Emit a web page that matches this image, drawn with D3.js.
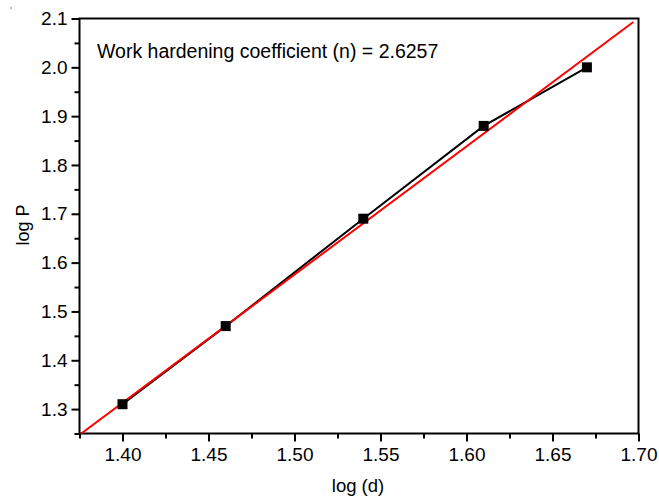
<!DOCTYPE html>
<html>
<head>
<meta charset="utf-8">
<script src="https://cdn.jsdelivr.net/npm/d3@7"></script>
<style>
  html, body { margin: 0; padding: 0; background: #fff; }
  svg { display: block; }
  text { font-family: "Liberation Sans", Arial, Helvetica, sans-serif; fill: #000; }
</style>
</head>
<body>
<svg id="chart" width="659" height="498"></svg>
<script>
// Measured log(d) vs log(P)
const logD = [1.40, 1.46, 1.54, 1.61, 1.67];
const logP = [1.31, 1.47, 1.69, 1.88, 2.00];

// Power-law fit slope (work hardening coefficient)
const nCoef = 2.6257;
const fitRange = [1.375, 1.697];

const xTicks = [1.40, 1.45, 1.50, 1.55, 1.60, 1.65, 1.70];
const xMinor = [1.375, 1.425, 1.475, 1.525, 1.575, 1.625, 1.675];
const yTicks = [1.3, 1.4, 1.5, 1.6, 1.7, 1.8, 1.9, 2.0, 2.1];
const yMinor = [1.25, 1.35, 1.45, 1.55, 1.65, 1.75, 1.85, 1.95, 2.05];

const svg = d3.select("#chart");
const plotL = 79.5, plotR = 638.5, plotT = 18.5, plotB = 433.5;
const tickFont = 19;

const x = d3.scaleLinear().domain([1.375, 1.70]).range([plotL, plotR]);
const y = d3.scaleLinear().domain([1.25, 2.1]).range([plotB, plotT]);

svg.append("defs").append("clipPath").attr("id", "plotClip")
  .append("rect").attr("x", plotL).attr("y", plotT)
  .attr("width", plotR - plotL).attr("height", plotB - plotT);

// Minor ticks
svg.append("g").attr("transform", `translate(0,${plotB})`)
  .call(d3.axisBottom(x).tickValues(xMinor).tickSize(5).tickFormat(""))
  .call(g => g.select(".domain").remove())
  .call(g => g.selectAll("line").attr("stroke-width", 2));
svg.append("g").attr("transform", `translate(${plotL},0)`)
  .call(d3.axisLeft(y).tickValues(yMinor).tickSize(5).tickFormat(""))
  .call(g => g.select(".domain").remove())
  .call(g => g.selectAll("line").attr("stroke-width", 2));

// Major ticks and labels
svg.append("g").attr("transform", `translate(0,${plotB})`)
  .call(d3.axisBottom(x).tickValues(xTicks).tickSize(8).tickPadding(6).tickFormat(d3.format(".2f")))
  .call(g => g.select(".domain").remove())
  .call(g => g.selectAll("line").attr("stroke-width", 2))
  .call(g => g.selectAll("text").attr("font-size", tickFont).attr("font-family", "Liberation Sans, Arial, sans-serif"));
svg.append("g").attr("transform", `translate(${plotL},0)`)
  .call(d3.axisLeft(y).tickValues(yTicks).tickSize(8).tickPadding(4).tickFormat(d3.format(".1f")))
  .call(g => g.select(".domain").remove())
  .call(g => g.selectAll("line").attr("stroke-width", 2))
  .call(g => g.selectAll("text").attr("font-size", tickFont).attr("font-family", "Liberation Sans, Arial, sans-serif"));

// Frame
svg.append("rect")
  .attr("x", plotL).attr("y", plotT)
  .attr("width", plotR - plotL).attr("height", plotB - plotT)
  .attr("fill", "none").attr("stroke", "#000").attr("stroke-width", 2);

const plot = svg.append("g").attr("clip-path", "url(#plotClip)");

// Data line
const pts = logD.map((d, i) => [d, logP[i]]);
plot.append("path")
  .datum(pts)
  .attr("fill", "none").attr("stroke", "#000").attr("stroke-width", 2)
  .attr("d", d3.line().x(d => x(d[0])).y(d => y(d[1])));

// Fitted line through the data centroid with slope n
const mx = d3.mean(logD), my = d3.mean(logP);
const fit = fitRange.map(v => [v, my + nCoef * (v - mx)]);
plot.append("path")
  .datum(fit)
  .attr("fill", "none").attr("stroke", "#ff0000").attr("stroke-width", 2)
  .attr("d", d3.line().x(d => x(d[0])).y(d => y(d[1])));

// Square markers
const ms = 10;
svg.append("g").selectAll("rect").data(pts).join("rect")
  .attr("x", d => x(d[0]) - ms / 2).attr("y", d => y(d[1]) - ms / 2)
  .attr("width", ms).attr("height", ms).attr("fill", "#000");

// Annotation
svg.append("text")
  .attr("x", 97).attr("y", 58)
  .attr("font-size", 19.5)
  .text("Work hardening coefficient (n) = " + nCoef.toFixed(4));

// Axis titles
svg.append("text")
  .attr("x", 358).attr("y", 492)
  .attr("text-anchor", "middle").attr("font-size", 18.5)
  .text("log (d)");
svg.append("text")
  .attr("transform", `translate(28.5,225) rotate(-90)`)
  .attr("text-anchor", "middle").attr("font-size", 18)
  .text("log P");

// Small corner mark
svg.append("circle").attr("cx", 11).attr("cy", 8).attr("r", 0.8).attr("fill", "#666");
</script>
</body>
</html>
